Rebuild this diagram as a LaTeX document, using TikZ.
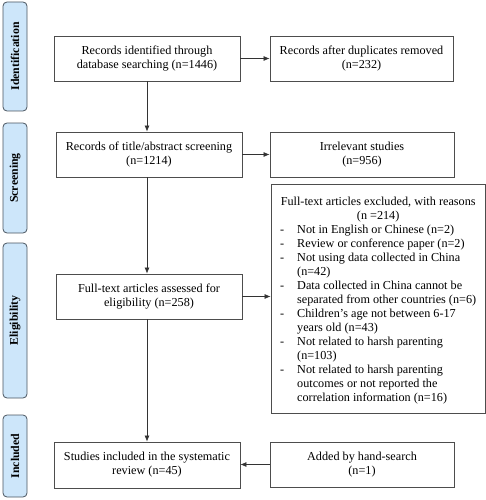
\documentclass[tikz,border=0pt]{standalone}
\usepackage{fontspec}
\setmainfont{Liberation Serif}
\usetikzlibrary{arrows.meta}
\definecolor{phasefill}{HTML}{CDE6FA}
\definecolor{phaseline}{HTML}{4A5560}
\definecolor{boxline}{HTML}{4D4D4D}
\tikzset{
  phase/.style={draw=phaseline, fill=phasefill, rounded corners=4pt, line width=0.8pt,
    minimum width=24pt, inner sep=0pt},
  phasetext/.style={rotate=90, font=\fontsize{11.8}{13}\selectfont\bfseries, inner sep=0pt},
  boxnode/.style={draw=boxline, line width=0.8pt, align=center, inner sep=2pt,
    font=\fontsize{12.2}{14}\selectfont},
  conn/.style={draw=black!80, line width=0.7pt, -{Latex[length=6pt,width=5pt]}}
}
\begin{document}
\begin{tikzpicture}[x=1pt,y=-1pt]
\useasboundingbox (0,0) rectangle (486,500);
% phase labels
\node[phase, minimum height=109pt] (pid) at (15,56.5) {};
\node[phasetext] (tid) at (pid.center) {Identification};
\node[phase, minimum height=110pt] (psc) at (15,178) {};
\node[phasetext] (tsc) at (psc.center) {Screening};
\node[phase, minimum height=155pt] (pel) at (15,320.5) {};
\node[phasetext] (tel) at (pel.center) {Eligibility};
\node[phase, minimum height=82pt] (pin) at (15,456) {};
\node[phasetext] (tin) at (pin.center) {Included};
% boxes
\node[boxnode, minimum width=186pt, minimum height=45pt] (b1) at (147,58.5)
  {Records identified through\\database searching (n=1446)};
\node[boxnode, minimum width=183pt, minimum height=45pt] (b2) at (361.5,58.5)
  {Records after duplicates removed\\(n=232)};
\node[boxnode, minimum width=186pt, minimum height=45pt] (b3) at (149,154.5)
  {Records of title/abstract screening\\(n=1214)};
\node[boxnode, minimum width=184pt, minimum height=45pt] (b4) at (362,154.5)
  {Irrelevant studies\\(n=956)};
\node[boxnode, minimum width=214pt, minimum height=229pt] (b5) at (378,298.5) {};
\node[anchor=north west, inner sep=0pt, font=\fontsize{12.2}{14}\selectfont] (t5) at (280,195)
  {\begin{tabular}{@{}p{17pt}@{}l@{}}
  \multicolumn{2}{@{}c@{}}{Full-text articles excluded, with reasons}\\
  \multicolumn{2}{@{}c@{}}{(n =214)}\\
  - & Not in English or Chinese (n=2)\\
  - & Review or conference paper (n=2)\\
  - & Not using data collected in China\\
    & (n=42)\\
  - & Data collected in China cannot be\\
    & separated from other countries (n=6)\\
  - & Children's age not between 6-17\\
    & years old (n=43)\\
  - & Not related to harsh parenting\\
    & (n=103)\\
  - & Not related to harsh parenting\\
    & outcomes or not reported the\\
    & correlation information (n=16)
  \end{tabular}};
\node[boxnode, minimum width=186pt, minimum height=45pt] (b6) at (149,296.5)
  {Full-text articles assessed for\\eligibility (n=258)};
\node[boxnode, minimum width=186pt, minimum height=46pt] (b7) at (147,465)
  {Studies included in the systematic\\review (n=45)};
\node[boxnode, minimum width=184pt, minimum height=45pt] (b8) at (362,464.5)
  {Added by hand-search\\(n=1)};
% connectors
\draw[conn] (b1.south) -- (b1.south |- b3.north);
\draw[conn] (b1.east) -- (b2.west);
\draw[conn] (b3.east) -- (b4.west);
\draw[conn] (b3.south -| b1.south) -- (b1.south |- b6.north);
\draw[conn] (b6.east) -- (b6.east -| b5.west);
\draw[conn] (b6.south -| b1.south) -- (b1.south |- b7.north);
\draw[conn] (b8.west) -- (b8.west -| b7.east);
\end{tikzpicture}
\end{document}
